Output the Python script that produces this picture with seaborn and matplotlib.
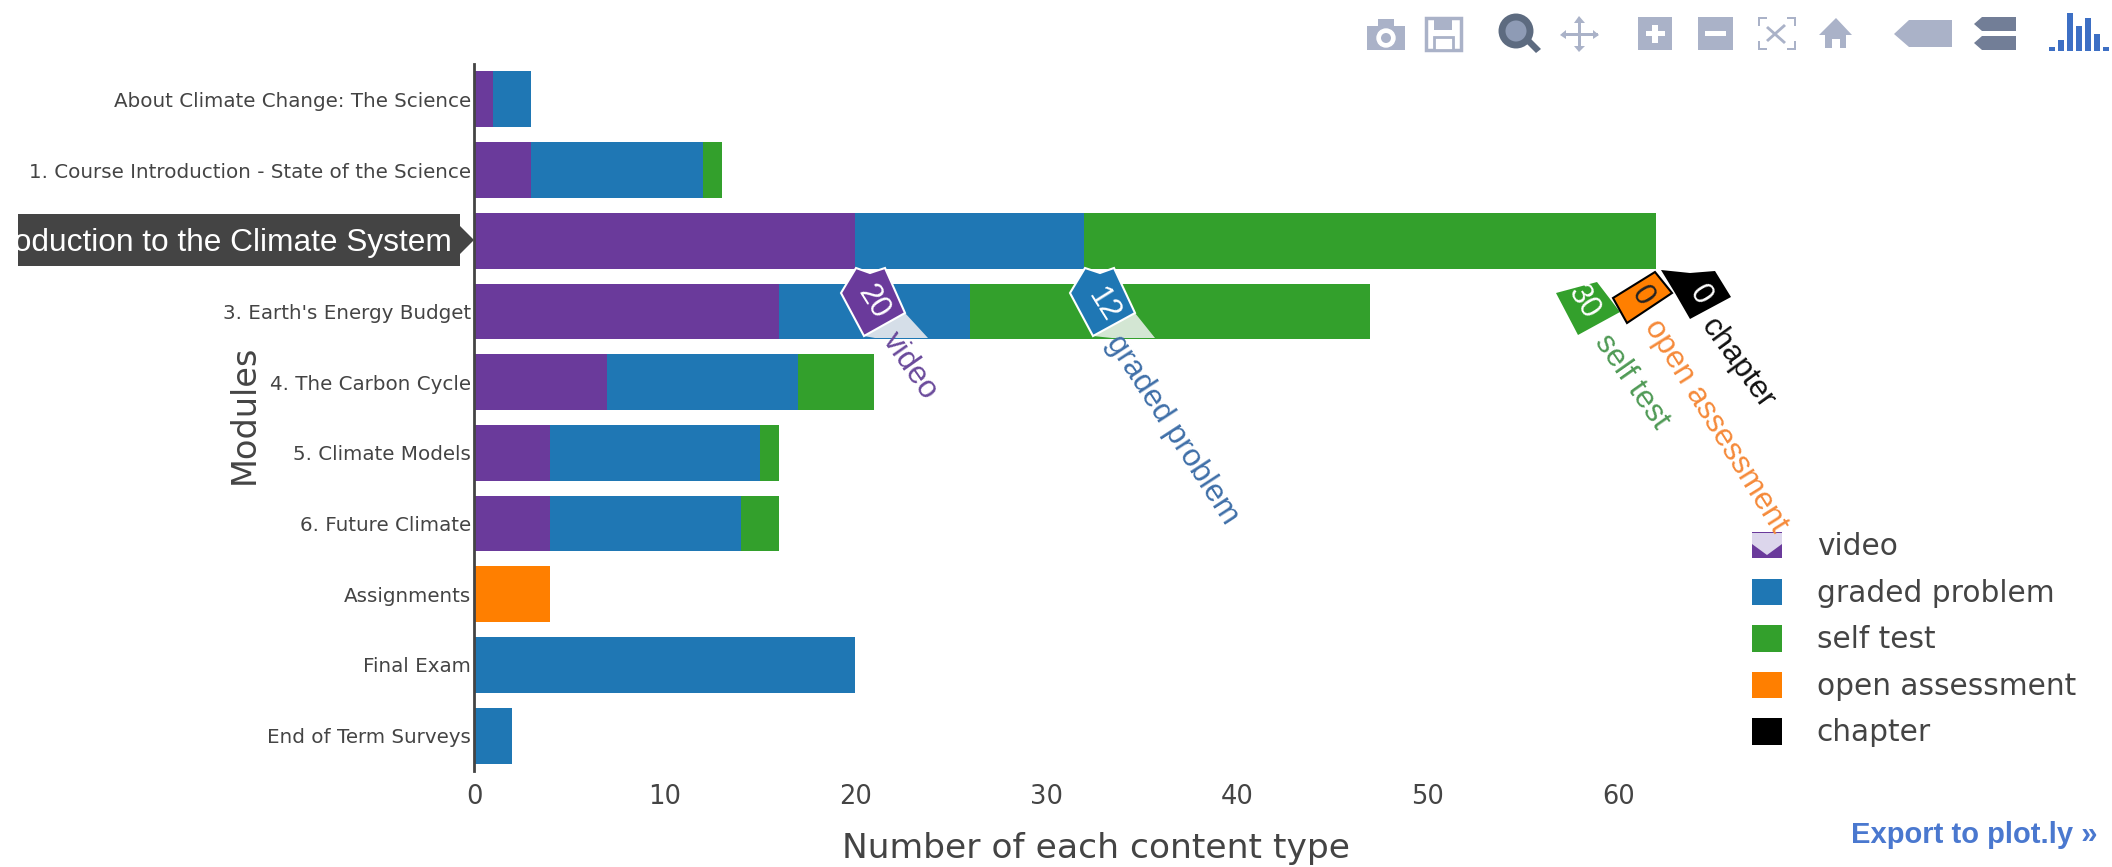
import numpy as np
import pandas as pd
import matplotlib
matplotlib.use("Agg")
import matplotlib.pyplot as plt
from matplotlib.patches import Polygon, Rectangle, Ellipse
import seaborn as sns

modules = ["About Climate Change: The Science",
           "1. Course Introduction - State of the Science",
           "2. Introduction to the Climate System",
           "3. Earth's Energy Budget", "4. The Carbon Cycle", "5. Climate Models",
           "6. Future Climate", "Assignments", "Final Exam", "End of Term Surveys"]
video = [1, 3, 20, 16, 7, 4, 4, 0, 0, 0]
graded_problem = [2, 9, 12, 10, 10, 11, 10, 0, 20, 2]
self_test = [0, 1, 30, 21, 4, 1, 2, 0, 0, 0]
open_assessment = [0, 0, 0, 0, 0, 0, 0, 4, 0, 0]
chapter = [0, 0, 0, 0, 0, 0, 0, 0, 0, 0]
series_names = ["video", "graded problem", "self test", "open assessment", "chapter"]
series_values = [video, graded_problem, self_test, open_assessment, chapter]
series_colors = ["#6a3a9b", "#1f77b4", "#33a02c", "#ff7f00", "#000000"]
x_ticks = [0, 10, 20, 30, 40, 50, 60]

W, H = 2112, 867
sns.set_theme(style="white")
fig = plt.figure(figsize=(W / 100, H / 100), dpi=100, facecolor="white")
ax = fig.add_axes([474 / W, 1 - 771 / H, (1720 - 474) / W, (771 - 64) / H])

def P(x, y):
    return (x / W, 1 - y / H)

def poly(pts, color, z=5, **kw):
    p = Polygon([P(*q) for q in pts], closed=True, transform=fig.transFigure,
                facecolor=color, zorder=z, **kw)
    fig.add_artist(p)
    return p

def rect(x0, y0, x1, y1, color, z=5, **kw):
    return poly([(x0, y0), (x1, y0), (x1, y1), (x0, y1)], color, z, linewidth=0, **kw)

def circle(x, y, r, color, z=6, **kw):
    e = Ellipse(P(x, y), 2 * r / W, 2 * r / H, transform=fig.transFigure, facecolor=color, zorder=z, **kw)
    fig.add_artist(e)
    return e

def label(x, y, s, **kw):
    kw.setdefault("ha", "center")
    kw.setdefault("va", "center")
    kw.setdefault("zorder", 8)
    return fig.text(*P(x, y), s, **kw)

# stacked bars: cumulative totals, drawn from the longest to the shortest
cum = np.cumsum(np.array(series_values), axis=0)
for name, col, totals in reversed(list(zip(series_names, series_colors, cum))):
    df = pd.DataFrame({"module": modules, "total": totals})
    sns.barplot(data=df, y="module", x="total", color=col, width=0.79, saturation=1,
                label=name, ax=ax, linewidth=0, orient="h")

ax.set_xlim(0, 65.34)
ax.set_xticks(x_ticks)
ax.tick_params(axis="both", length=0)
ax.tick_params(axis="x", labelsize=18.5, labelcolor="#444444", pad=9)
ax.tick_params(axis="y", labelsize=14.35, labelcolor="#444444", pad=2)
ax.set_xlabel("Number of each content type", fontsize=24.8, color="#444444")
ax.set_ylabel("Modules", fontsize=24.2, color="#444444")
ax.xaxis.set_label_coords(*P(1096, 832), transform=fig.transFigure)
ax.yaxis.set_label_coords(*P(261, 414), transform=fig.transFigure)
for s in ["top", "right", "bottom"]:
    ax.spines[s].set_visible(False)
ax.spines["left"].set_color("#444444")
ax.spines["left"].set_linewidth(2)
ax.get_yticklabels()[2].set_visible(False)

# legend
h, l = ax.get_legend_handles_labels()
leg = ax.legend(h[::-1], l[::-1], loc="upper left", bbox_to_anchor=P(1752, 532),
                bbox_transform=fig.transFigure, frameon=False, fontsize=21.3,
                labelcolor="#444444", borderpad=0, borderaxespad=0, labelspacing=0.58,
                handlelength=1.01, handleheight=1.0, handletextpad=1.18)
poly([(1752, 533), (1782, 533), (1782, 544), (1767, 555), (1752, 544)], "#dcd6ec", 6, linewidth=0)

# hover tooltip on the y axis
rect(18, 214, 460, 266, "#444444", 6)
poly([(460, 226), (474, 240), (460, 254)], "#444444", 6, linewidth=0)
clip = Rectangle(P(18, 266), 442 / W, 52 / H, transform=fig.transFigure)
t = label(452, 243, modules[2], ha="right", family="Liberation Sans", fontsize=22.8, color="white")
t.set_clip_path(clip)
t.set_clip_on(True)

# hover flags
poly([(905, 313), (928, 338), (875, 338), (864, 336)], "#d5dee8", 5, linewidth=0)
poly([(1135, 313), (1155, 338), (1112, 338), (1093, 336)], "#d3e6d3", 5, linewidth=0)
poly([(856, 268), (870, 273), (885, 268), (905, 313), (864, 336), (841, 293)], series_colors[0], 6,
     edgecolor="white", linewidth=1.5)
poly([(1085, 268), (1100, 273), (1114, 268), (1135, 313), (1093, 336), (1070, 293)], series_colors[1], 6,
     edgecolor="white", linewidth=1.5)
poly([(1556, 293), (1597, 282), (1620, 312), (1578, 335)], series_colors[2], 6, linewidth=0)
poly([(1613, 298), (1655, 272), (1672, 293), (1627, 323)], series_colors[3], 6, edgecolor="black", linewidth=1.5)
poly([(1661, 270), (1690, 273), (1715, 271), (1731, 297), (1690, 319), (1675, 293)], series_colors[4], 6, linewidth=0)

flags = [("20", 873, 302, "white"), ("12", 1103, 305, "white"), ("30", 1584, 302, "white"),
         ("0", 1642, 296, "#222222"), ("0", 1700, 295, "white")]
for s, x, y, c in flags:
    label(x, y, s, family="Liberation Sans", fontsize=22, color=c, rotation=-58, rotation_mode="anchor")

names = [("video", 910, 366, "#6a4a9b", -55), ("graded problem", 1172, 430, "#3f6fa8", -57),
         ("self test", 1632, 382, "#4f9a55", -55), ("open assessment", 1716, 426, "#f58a3a", -58),
         ("chapter", 1737, 363, "#111111", -54)]
for s, x, y, c, r in names:
    label(x, y, s, family="Liberation Sans", fontsize=22.5, color=c, rotation=r, rotation_mode="anchor")

# toolbar icons
ic = "#aab2c8"
dk = "#5d6b80"
rect(1367, 26, 1405, 50, ic); rect(1378, 19, 1394, 27, ic)
circle(1386, 38, 9, "white")
circle(1386, 38, 5, ic, 7, linewidth=0)
poly([(1426, 18), (1461, 18), (1461, 50), (1426, 50)], "white", 5, edgecolor=ic, linewidth=2.5)
rect(1434, 18, 1452, 30, ic)
poly([(1434, 37), (1453, 37), (1453, 50), (1434, 50)], "white", 6, edgecolor=ic, linewidth=2)
circle(1516, 31, 14, "#8e9bb5", 6, edgecolor=dk, linewidth=5)
poly([(1524, 41), (1529, 37), (1541, 49), (1536, 53)], dk, 6, linewidth=0)
rect(1578, 20, 1581, 50, ic)
rect(1562, 33, 1598, 36, ic)
poly([(1574, 23), (1579, 16), (1585, 23)], ic, linewidth=0)
poly([(1574, 46), (1579, 52), (1585, 46)], ic, linewidth=0)
poly([(1566, 30), (1560, 35), (1566, 39)], ic, linewidth=0)
poly([(1593, 30), (1599, 35), (1593, 39)], ic, linewidth=0)
rect(1638, 17, 1672, 50, ic); rect(1652, 25, 1658, 43, "white", 6); rect(1646, 31, 1665, 36, "white", 6)
rect(1698, 17, 1733, 50, ic); rect(1705, 31, 1726, 36, "white", 6)
for (x, y, dx, dy) in [(1758, 17, 1, 1), (1796, 17, -1, 1), (1758, 50, 1, -1), (1796, 50, -1, -1)]:
    rect(min(x, x + 9 * dx), min(y, y + 2 * dy), max(x, x + 9 * dx), max(y, y + 2 * dy), ic)
    rect(min(x, x + 2 * dx), min(y, y + 9 * dy), max(x, x + 2 * dx), max(y, y + 9 * dy), ic)
poly([(1768, 26), (1786, 42), (1784, 44), (1766, 28)], ic, linewidth=0)
poly([(1786, 26), (1768, 42), (1766, 40), (1784, 24)], ic, linewidth=0)
poly([(1819, 35), (1836, 18), (1852, 35), (1846, 35), (1846, 48), (1840, 48), (1840, 39),
      (1832, 39), (1832, 48), (1825, 48), (1825, 35)], ic, linewidth=0)
poly([(1894, 34), (1909, 20), (1952, 20), (1952, 47), (1909, 47)], ic, linewidth=0)
poly([(1974, 24), (1982, 17), (2016, 17), (2016, 31), (1982, 31)], "#727e97", linewidth=0)
poly([(1974, 43), (1982, 36), (2016, 36), (2016, 50), (1982, 50)], "#727e97", linewidth=0)
logo_bars = [(2049, 47), (2058, 40), (2067, 13), (2076, 26), (2085, 18), (2094, 34), (2103, 47)]
for x, top in logo_bars:
    rect(x, top, x + 6, 51, "#3d6fc4")

label(1851, 835, "Export to plot.ly »", ha="left", family="Liberation Sans", fontsize=21,
      fontweight="bold", color="#4a78cf")

fig.savefig("out.png", dpi=100, facecolor="white")
